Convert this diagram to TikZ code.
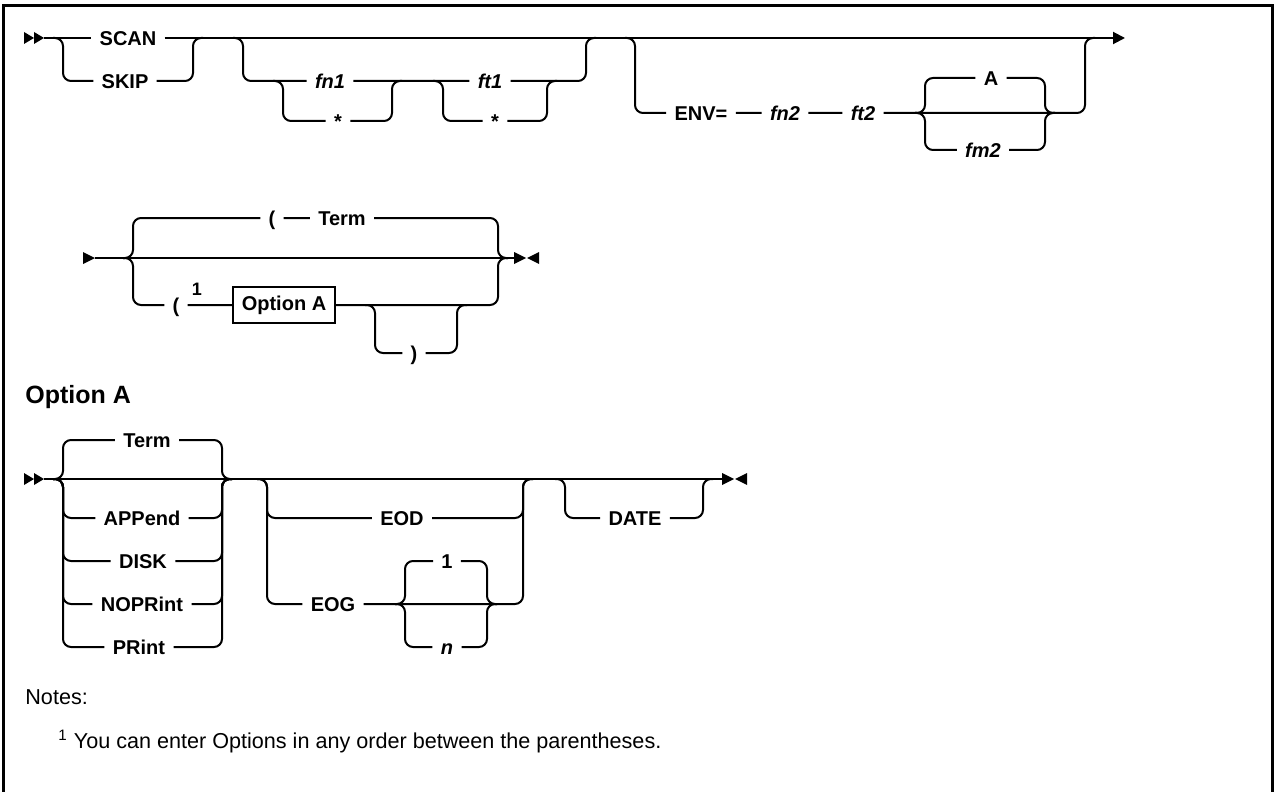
\documentclass[tikz,border=0pt]{standalone}
\usepackage{fontspec}
\setmainfont{Liberation Sans}
\usepackage{tikz}
\usetikzlibrary{arrows.meta}

\begin{document}
\begin{tikzpicture}[x=0.5pt, y=-0.5pt, >=Stealth,
    rail/.style={line width=1pt, rounded corners=4pt},
    lbl/.style={inner xsep=4pt, inner ysep=1pt, text height=7.2pt, text depth=0pt,
        font=\fontsize{10}{12}\selectfont\bfseries},
    var/.style={lbl, font=\fontsize{10}{12}\selectfont\bfseries\itshape},
    optbox/.style={draw, line width=0.8pt, minimum width=51pt, minimum height=18pt,
        inner sep=2pt, font=\fontsize{10}{12}\selectfont\bfseries},
    notetext/.style={anchor=west, inner sep=0pt, font=\fontsize{10.8}{13}\selectfont}]
    \useasboundingbox (0,0) rectangle (1274,792);

    % Frame (open at the bottom)
    \draw[line width=1.5pt] (3,792) -- (3,5.5) -- (1272.5,5.5) -- (1272.5,792);

    % ---- Command syntax, first line ----
    \fill (24,32) -- (34,38) -- (24,44) -- cycle;
    \fill (34,32) -- (44,38) -- (34,44) -- cycle;
    \node[lbl] (scan) at (128,38) {SCAN};
    \node[lbl] (skip) at (125,81) {SKIP};
    \node[var] (fnone) at (330,81) {fn1};
    \node[lbl] (starone) at (338,121) {*};
    \node[var] (ftone) at (490,81) {ft1};
    \node[lbl] (startwo) at (495,121) {*};
    \node[lbl] (env) at (701,113) {ENV=};
    \node[var] (fntwo) at (785,113) {fn2};
    \node[var] (fttwo) at (863,113) {ft2};
    \node[lbl] (amode) at (991,78) {A};
    \node[var] (fmtwo) at (983,150) {fm2};

    \draw[rail] (44,38) -- (scan);
    \draw[rail, -{Triangle[length=6pt, width=6pt]}] (scan) -- (1125,38);
    \draw[rail] (53,38) -- (63,38) |- (skip) -| (193,38) -- (203,38);
    % optional file id
    \draw[rail] (233,38) -- (243,38) |- (fnone) -- (ftone) -| (586,38) -- (596,38);
    \draw[rail] (273,81) -- (283,81) |- (starone) -| (392,81) -- (402,81);
    \draw[rail] (433,81) -- (443,81) |- (startwo) -| (547,81) -- (557,81);
    % environment file
    \draw[rail] (625,38) -- (635,38) |- (env) -- (fntwo) -- (fttwo) -| (1085,38) -- (1095,38);
    \draw[rail] (915,113) -- (925,113) |- (amode) -| (1045,113) -- (1055,113);
    \draw[rail] (915,113) -- (925,113) |- (fmtwo) -| (1045,113) -- (1055,113);

    % ---- Command syntax, second line ----
    \fill (83,252) -- (95,258) -- (83,264) -- cycle;
    \node[lbl] (lparone) at (272,218) {(};
    \node[lbl] (termone) at (342,218) {Term};
    \node[lbl] (lpartwo) at (176,305) {(};
    \node[inner sep=1pt, font=\fontsize{9}{11}\selectfont\bfseries] (noteref) at (197,289) {1};
    \node[optbox] (opta) at (284,305) {Option A};
    \node[lbl] (rpar) at (414,353) {)};

    \draw[rail] (95,258) -- (514,258);
    \fill (514,252) -- (526,258) -- (514,264) -- cycle;
    \fill (539,252) -- (527,258) -- (539,264) -- cycle;
    \draw[rail] (123,258) -- (133,258) |- (lparone) -- (termone) -| (498,258) -- (508,258);
    \draw[rail] (123,258) -- (133,258) |- (lpartwo) -- (opta) -| (498,258) -- (508,258);
    \draw[rail] (365,305) -- (375,305) |- (rpar) -| (457,305) -- (467,305);

    % ---- Option A fragment ----
    \node[anchor=west, inner sep=0pt, font=\fontsize{12.5}{15}\selectfont\bfseries] (optahead) at (25,397) {Option A};
    \fill (24,473) -- (34,479) -- (24,485) -- cycle;
    \fill (34,473) -- (44,479) -- (34,485) -- cycle;
    \node[lbl] (termtwo) at (147,440) {Term};
    \node[lbl] (append) at (142,518) {APPend};
    \node[lbl] (disk) at (143,561) {DISK};
    \node[lbl] (noprint) at (142,604) {NOPRint};
    \node[lbl] (print) at (139,647) {PRint};
    \node[lbl] (eod) at (402,518) {EOD};
    \node[lbl] (eog) at (333,604) {EOG};
    \node[lbl] (gone) at (447,561) {1};
    \node[var] (gn) at (447,647) {n};
    \node[lbl] (date) at (635,518) {DATE};

    \draw[rail] (44,479) -- (722,479);
    \fill (722,473) -- (734,479) -- (722,485) -- cycle;
    \fill (747,473) -- (735,479) -- (747,485) -- cycle;
    % output options
    \draw[rail] (53,479) -- (63,479) |- (termtwo) -| (222,479) -- (232,479);
    \draw[rail] (53,479) -- (63,479) |- (append) -| (222,479) -- (232,479);
    \draw[rail] (53,479) -- (63,479) |- (disk) -| (222,479) -- (232,479);
    \draw[rail] (53,479) -- (63,479) |- (noprint) -| (222,479) -- (232,479);
    \draw[rail] (53,479) -- (63,479) |- (print) -| (222,479) -- (232,479);
    % end of data / group
    \draw[rail] (257,479) -- (267,479) |- (eod) -| (523,479) -- (533,479);
    \draw[rail] (257,479) -- (267,479) |- (eog) -| (523,479) -- (533,479);
    \draw[rail] (395,604) -- (405,604) |- (gone) -| (487,604) -- (497,604);
    \draw[rail] (395,604) -- (405,604) |- (gn) -| (487,604) -- (497,604);
    % date
    \draw[rail] (555,479) -- (565,479) |- (date) -| (703,479) -- (713,479);

    % Notes
    \node[notetext] (notes) at (25,697) {Notes:};
    \node[notetext] (noteone) at (58,742) {\textsuperscript{1} You can enter Options in any order between the parentheses.};
\end{tikzpicture}
\end{document}
